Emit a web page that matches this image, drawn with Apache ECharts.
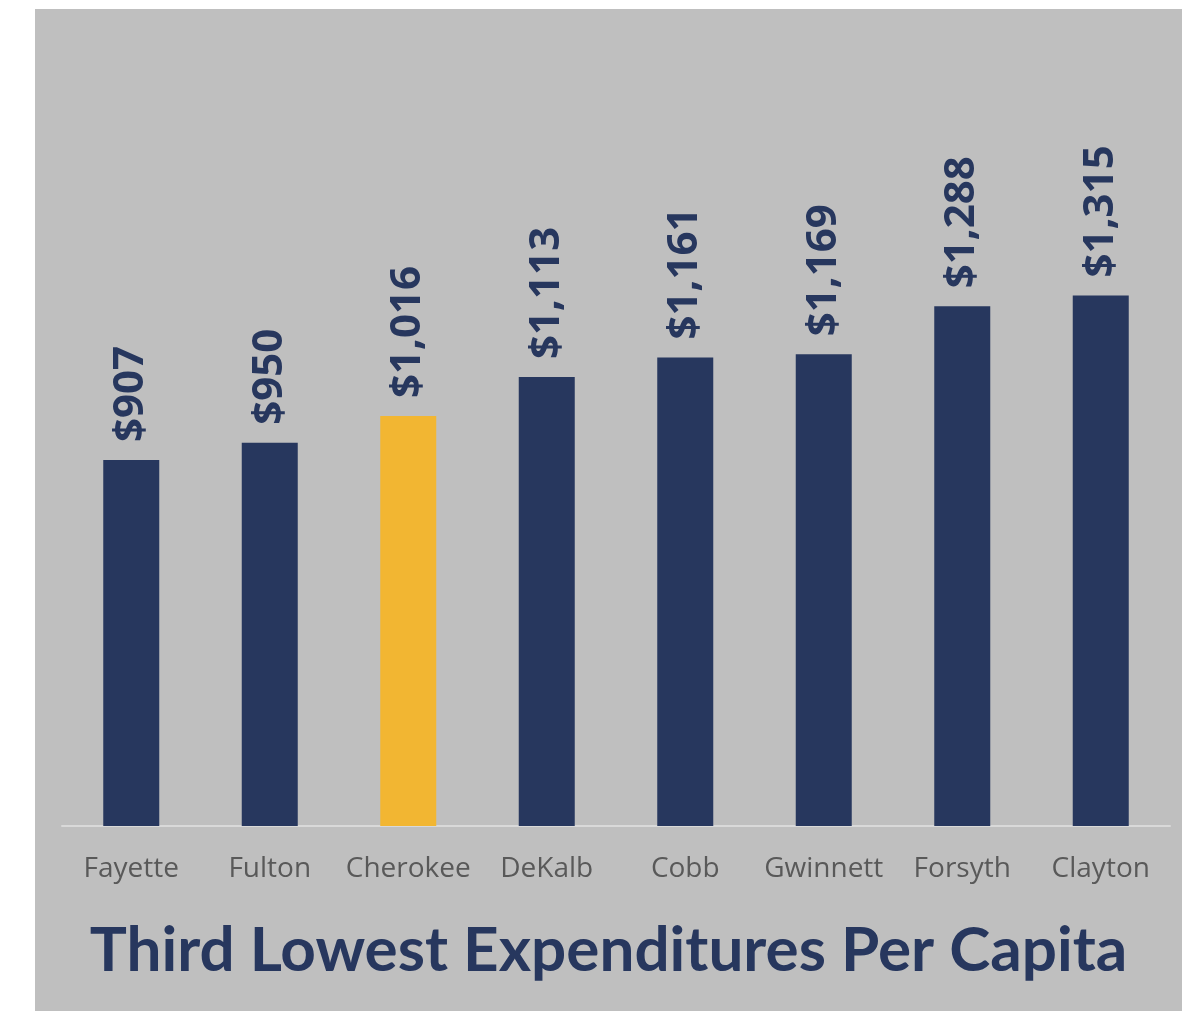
<!DOCTYPE html>
<html>
<head>
<meta charset="utf-8">
<script src="https://cdn.jsdelivr.net/npm/echarts@6/dist/echarts.min.js"></script>
<style>
  html, body { margin: 0; padding: 0; background: #ffffff; }
  .main { position: absolute; left: 35px; top: 9px; width: 1147px; height: 1002px; }
</style>
</head>
<body>
<div class="main"></div>
<script>
var counties = ['Fayette', 'Fulton', 'Cherokee', 'DeKalb', 'Cobb', 'Gwinnett', 'Forsyth', 'Clayton'];
var perCapita = [907, 950, 1016, 1113, 1161, 1169, 1288, 1315];
var highlight = 'Cherokee';

function main() {
  var navy = '#27375e';
  var gold = '#f2b632';

  var barData = [];
  for (var i = 0; i < perCapita.length; i++) {
    barData.push({
      value: perCapita[i],
      itemStyle: { color: counties[i] == highlight ? gold : navy }
    });
  }

  var myChart = echarts.init(document.querySelector('.main'));

  var option = {
    backgroundColor: '#bfbfbf',
    animation: false,
    title: {
      text: 'Third Lowest Expenditures Per Capita',
      left: 'center',
      top: 906,
      textStyle: {
        color: navy,
        fontFamily: 'Lato',
        fontWeight: 'bold',
        fontSize: 62
      }
    },
    grid: { left: 27, right: 12, top: 10, bottom: 185 },
    xAxis: {
      type: 'category',
      data: counties,
      axisLine: { lineStyle: { color: '#d9d9d9', width: 2 } },
      axisTick: { show: false },
      axisLabel: {
        interval: 0,
        color: '#595959',
        fontFamily: 'Open Sans',
        fontSize: 28,
        margin: 29
      }
    },
    yAxis: {
      type: 'value',
      min: 0,
      max: 2000,
      show: false,
      splitLine: { show: false }
    },
    series: [{
      type: 'bar',
      data: barData,
      barWidth: 56,
      label: {
        show: true,
        position: 'top',
        rotate: 90,
        align: 'left',
        verticalAlign: 'middle',
        distance: 18,
        color: navy,
        fontFamily: 'Open Sans',
        fontWeight: 'bold',
        fontSize: 42,
        formatter: function (p) {
          return '$' + p.value.toLocaleString('en-US');
        }
      }
    }]
  };

  myChart.setOption(option);
}
main();
</script>
</body>
</html>
